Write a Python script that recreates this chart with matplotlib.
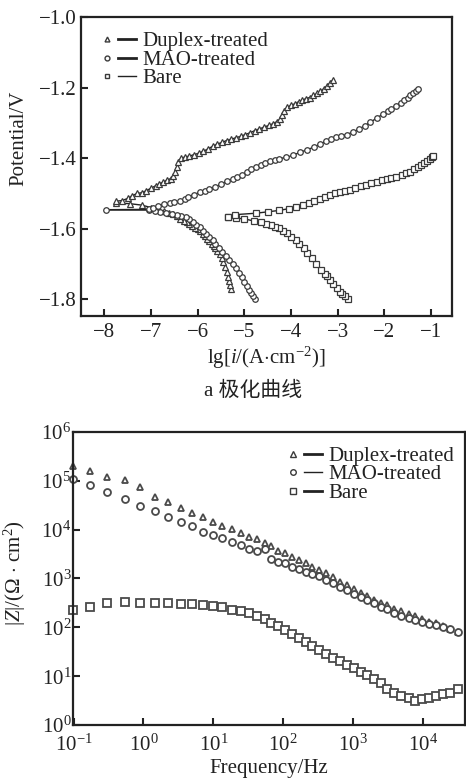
import matplotlib
matplotlib.use('Agg')
import matplotlib.pyplot as plt
from matplotlib.lines import Line2D
from matplotlib.legend_handler import HandlerTuple
from matplotlib.ticker import FixedLocator, NullLocator

plt.rcParams['font.family'] = ['Liberation Serif', 'Noto Sans CJK SC']
plt.rcParams['mathtext.fontset'] = 'custom'
plt.rcParams['mathtext.rm'] = 'Liberation Serif'
plt.rcParams['mathtext.it'] = 'Liberation Serif:italic'
plt.rcParams['axes.unicode_minus'] = True

# ---- polarization curves: lg(i) vs potential (cathodic branch from -1.8 V up to Ecorr, then anodic)
duplex_cat_lgi = [-5.28, -5.30, -5.32, -5.35, -5.38, -5.41, -5.45, -5.49, -5.53, -5.58, -5.62, -5.66,
                  -5.70, -5.75, -5.80, -5.85, -5.89, -5.95, -6.00, -6.05, -6.12, -6.18, -6.24, -6.30,
                  -6.37, -6.45, -6.53, -6.62, -6.72, -6.85, -7.00, -7.20, -7.45, -7.75]
duplex_cat_e = [-1.770, -1.760, -1.748, -1.736, -1.722, -1.708, -1.695, -1.683, -1.671, -1.663, -1.656, -1.649,
                -1.643, -1.635, -1.628, -1.620, -1.614, -1.607, -1.602, -1.598, -1.592, -1.586, -1.581, -1.577,
                -1.571, -1.564, -1.558, -1.554, -1.550, -1.546, -1.540, -1.533, -1.529, -1.527]
duplex_an_lgi = [-7.75, -7.62, -7.50, -7.40, -7.30, -7.20, -7.10, -7.00, -6.90, -6.82, -6.74, -6.66,
                 -6.58, -6.52, -6.48, -6.45, -6.42, -6.36, -6.28, -6.18, -6.08, -5.98, -5.88, -5.78,
                 -5.68, -5.58, -5.48, -5.38, -5.28, -5.18, -5.08, -4.98, -4.88, -4.78, -4.68, -4.58,
                 -4.48, -4.38, -4.30, -4.24, -4.20, -4.15, -4.08, -4.00, -3.92, -3.84, -3.76, -3.68,
                 -3.60, -3.52, -3.44, -3.37, -3.30, -3.23, -3.16, -3.10]
duplex_an_e = [-1.522, -1.520, -1.514, -1.506, -1.500, -1.498, -1.492, -1.485, -1.478, -1.472, -1.468, -1.462,
               -1.458, -1.450, -1.438, -1.425, -1.410, -1.400, -1.397, -1.394, -1.390, -1.386, -1.380, -1.374,
               -1.366, -1.360, -1.355, -1.350, -1.346, -1.342, -1.338, -1.333, -1.328, -1.322, -1.317, -1.312,
               -1.307, -1.302, -1.296, -1.290, -1.278, -1.265, -1.256, -1.250, -1.246, -1.240, -1.236, -1.231,
               -1.228, -1.222, -1.216, -1.210, -1.203, -1.195, -1.186, -1.177]

mao_cat_lgi = [-4.78, -4.82, -4.86, -4.90, -4.95, -5.00, -5.06, -5.12, -5.18, -5.25, -5.32, -5.40,
               -5.47, -5.55, -5.62, -5.68, -5.75, -5.82, -5.89, -5.96, -6.03, -6.10, -6.18, -6.25,
               -6.35, -6.45, -6.55, -6.68, -6.80, -6.92, -7.05, -7.96]
mao_cat_e = [-1.800, -1.792, -1.783, -1.775, -1.762, -1.750, -1.738, -1.725, -1.712, -1.699, -1.688, -1.678,
             -1.666, -1.655, -1.644, -1.633, -1.624, -1.615, -1.605, -1.596, -1.588, -1.580, -1.573, -1.567,
             -1.563, -1.560, -1.557, -1.554, -1.552, -1.549, -1.547, -1.546]
mao_an_lgi = [-7.05, -6.95, -6.85, -6.72, -6.60, -6.50, -6.39, -6.28, -6.20, -6.08, -5.96, -5.85,
              -5.75, -5.62, -5.50, -5.38, -5.25, -5.15, -5.05, -4.95, -4.85, -4.75, -4.65, -4.55,
              -4.45, -4.35, -4.25, -4.10, -3.95, -3.80, -3.65, -3.50, -3.38, -3.25, -3.14, -3.03,
              -2.92, -2.80, -2.68, -2.55, -2.42, -2.30, -2.16, -2.03, -1.93, -1.85, -1.75, -1.65,
              -1.57, -1.50, -1.44, -1.38, -1.33, -1.28]
mao_an_e = [-1.545, -1.540, -1.535, -1.531, -1.528, -1.525, -1.522, -1.516, -1.510, -1.503, -1.497, -1.492,
            -1.488, -1.481, -1.474, -1.466, -1.459, -1.454, -1.448, -1.440, -1.432, -1.425, -1.418, -1.413,
            -1.408, -1.404, -1.401, -1.398, -1.391, -1.383, -1.376, -1.368, -1.360, -1.352, -1.346, -1.341,
            -1.337, -1.333, -1.326, -1.318, -1.308, -1.298, -1.286, -1.275, -1.267, -1.260, -1.251, -1.243,
            -1.235, -1.228, -1.221, -1.214, -1.209, -1.204]

bare_cat_lgi = [-2.78, -2.84, -2.90, -2.95, -3.02, -3.10, -3.17, -3.24, -3.28, -3.35, -3.46, -3.55,
                -3.65, -3.73, -3.82, -3.90, -4.00, -4.08, -4.17, -4.26, -4.35, -4.44, -4.53, -4.65,
                -4.80, -5.00, -5.18, -5.35]
bare_cat_e = [-1.800, -1.792, -1.785, -1.780, -1.768, -1.756, -1.745, -1.734, -1.728, -1.717, -1.699, -1.684,
              -1.670, -1.656, -1.643, -1.632, -1.622, -1.613, -1.605, -1.599, -1.595, -1.590, -1.586, -1.582,
              -1.578, -1.572, -1.570, -1.567]
bare_an_lgi = [-5.35, -5.20, -4.75, -4.50, -4.25, -4.05, -3.90, -3.75, -3.62, -3.50, -3.39, -3.28,
               -3.16, -3.05, -2.96, -2.85, -2.74, -2.62, -2.50, -2.39, -2.28, -2.16, -2.05, -1.95,
               -1.85, -1.74, -1.63, -1.53, -1.44, -1.36, -1.28, -1.21, -1.15, -1.09, -1.03, -0.98, -0.95]
bare_an_e = [-1.567, -1.560, -1.556, -1.552, -1.548, -1.543, -1.538, -1.533, -1.527, -1.522, -1.517, -1.511,
             -1.505, -1.500, -1.497, -1.494, -1.489, -1.484, -1.479, -1.475, -1.471, -1.467, -1.463, -1.460,
             -1.457, -1.453, -1.448, -1.443, -1.438, -1.432, -1.426, -1.420, -1.414, -1.408, -1.402, -1.397, -1.393]

# ---- Bode modulus |Z| (ohm cm2) vs frequency (Hz)
freq = [0.098, 0.174, 0.30, 0.54, 0.89, 1.45, 2.24, 3.39, 5.0, 7.1, 10, 13.5, 18.6, 24.5, 32.4,
        42.7, 55, 67.6, 83.2, 105, 132, 166, 209, 257, 324, 407, 513, 646, 813, 1047, 1288,
        1585, 1995, 2512, 3090, 3890, 4898, 6310, 7762, 9772, 12300, 15490, 19500, 24550, 31620]
z_duplex = [2.0e5, 1.55e5, 1.2e5, 1.05e5, 7.4e4, 4.7e4, 3.7e4, 2.8e4, 2.15e4, 1.8e4, 1.45e4, 1.2e4,
            1.02e4, 8.7e3, 6.9e3, 6.3e3, 5.2e3, 4.7e3, 3.6e3, 3.3e3, 2.8e3, 2.4e3, 2.1e3, 1.74e3,
            1.48e3, 1.32e3, 1.05e3, 850, 740, 600, 510, 440, 370, 316, 280, 240, 215, 186, 170,
            145, 129, 120, 107, 91, 79]
z_mao = [1.07e5, 8.2e4, 6.0e4, 4.2e4, 3.0e4, 2.4e4, 1.8e4, 1.45e4, 1.17e4, 9.1e3, 7.8e3, 6.6e3,
         5.6e3, 4.9e3, 4.0e3, 3.7e3, 4.0e3, 2.45e3, 2.2e3, 2.05e3, 1.74e3, 1.55e3, 1.38e3, 1.23e3,
         1.1e3, 930, 790, 680, 575, 470, 415, 355, 310, 265, 235, 200, 174, 158, 141, 126, 115,
         110, 102, 91, 79]
z_bare = [226, 265, 310, 335, 310, 320, 310, 297, 297, 288, 277, 257, 226, 215, 194, 170, 145,
          124, 107, 88, 72, 60, 49, 42, 34, 28.5, 24, 20.5, 17, 14.5, 12.3, 10.5, 8.6, 7.2, 5.6,
          4.5, 3.9, 3.5, 3.1, 3.35, 3.6, 3.9, 4.3, 4.6, 5.4]

names = ['Duplex-treated', 'MAO-treated', 'Bare']
markers = ['^', 'o', 's']
ink = '#222222'
edge = '#3a3a3a'
fs = 15

fig = plt.figure(figsize=(4.66, 7.78), dpi=100, facecolor='white')


def style_axes(ax):
    for sp in ax.spines.values():
        sp.set_linewidth(1.6)
        sp.set_color(ink)
    ax.tick_params(direction='in', length=5, width=1.5, colors=ink, labelsize=fs,
                   top=False, right=False)


def legend_handles(mk_size, line_w):
    hs = []
    for mk, lw in zip(markers, line_w):
        m = Line2D([], [], ls='none', marker=mk, ms=mk_size, mfc='white', mec=edge, mew=1.0)
        ln = Line2D([], [], color=ink, lw=lw)
        hs.append((m, ln))
    return hs


# ---------------- polarization curves
ax1 = fig.add_axes([0.174, 0.594, 0.796, 0.384])
curves = [
    (duplex_cat_lgi + duplex_an_lgi, duplex_cat_e + duplex_an_e),
    (mao_cat_lgi + mao_an_lgi, mao_cat_e + mao_an_e),
    (bare_cat_lgi + bare_an_lgi, bare_cat_e + bare_an_e),
]
for (x, y), mk in zip(curves, markers):
    ax1.plot(x, y, color=ink, lw=1.0, marker=mk, ms=4.0, mfc='white', mec=edge, mew=0.9)

ax1.set_xlim(-8.5, -0.55)
ax1.set_ylim(-1.847, -1.0)
ax1.set_xticks([-8, -7, -6, -5, -4, -3, -2, -1])
ax1.set_yticks([-1.8, -1.6, -1.4, -1.2, -1.0])
ax1.yaxis.set_major_formatter(matplotlib.ticker.FuncFormatter(lambda v, p: f'{v:.1f}'.replace('-', '\u2212')))
ax1.xaxis.set_major_formatter(matplotlib.ticker.FuncFormatter(lambda v, p: f'{v:.0f}'.replace('-', '\u2212')))
style_axes(ax1)
ax1.tick_params(axis='x', pad=5)
ax1.tick_params(axis='y', pad=3)
ax1.set_xlabel(r'lg[$\mathit{i}$/(A$\cdot$cm$^{-2}$)]', fontsize=fs, color=ink, labelpad=2)
ax1.set_ylabel('Potential/V', fontsize=fs, color=ink)
ax1.yaxis.set_label_coords(-0.143, 0.595)

ax1.legend(legend_handles(3.5, [2.0, 2.0, 1.0]), names,
           handler_map={tuple: HandlerTuple(ndivide=None, pad=0.1)},
           loc='upper left', bbox_to_anchor=(0.008, 1.0), frameon=False,
           fontsize=fs, handlelength=1.8, handletextpad=0.3, labelspacing=-0.05,
           borderpad=0.2, labelcolor=ink)

fig.text(0.543, 1 - 391 / 778, 'a 极化曲线', ha='center', va='center', fontsize=fs, color=ink)

# ---------------- Bode modulus
ax2 = fig.add_axes([0.156, 0.068, 0.841, 0.377])
for z, mk, ms in zip([z_duplex, z_mao, z_bare], markers, [5.0, 5.0, 5.2]):
    ax2.plot(freq, z, ls='none', marker=mk, ms=ms, mfc='white', mec='#4a4a4a', mew=1.3,
             clip_on=False)
ax2.set_xscale('log')
ax2.set_yscale('log')
ax2.set_xlim(0.097, 39500)
ax2.set_ylim(1, 1e6)
ax2.xaxis.set_major_locator(FixedLocator([0.1, 1, 10, 100, 1000, 10000]))
ax2.yaxis.set_major_locator(FixedLocator([1, 10, 100, 1e3, 1e4, 1e5, 1e6]))
ax2.xaxis.set_minor_locator(NullLocator())
ax2.yaxis.set_minor_locator(NullLocator())
ax2.set_xticklabels([r'$\mathregular{10^{-1}}$', r'$\mathregular{10^{0}}$', r'$\mathregular{10^{1}}$',
                     r'$\mathregular{10^{2}}$', r'$\mathregular{10^{3}}$', r'$\mathregular{10^{4}}$'])
ax2.set_yticklabels([r'$\mathregular{10^{%d}}$' % k for k in range(7)])
style_axes(ax2)
ax2.tick_params(axis='x', pad=7)
ax2.tick_params(axis='y', pad=1)
ax2.set_xlabel('Frequency/Hz', fontsize=fs, color=ink, labelpad=2)
ax2.set_ylabel(r'|$\mathit{Z}$|/($\Omega$ $\cdot$ cm$^2$)', fontsize=fs, color=ink)
ax2.yaxis.set_label_coords(-0.113, 0.52)

ax2.legend(legend_handles(4.0, [2.0, 1.0, 2.0]), names,
           handler_map={tuple: HandlerTuple(ndivide=None, pad=0.1)},
           loc='upper right', bbox_to_anchor=(1.01, 1.0), frameon=False,
           fontsize=fs, handlelength=1.8, handletextpad=0.3, labelspacing=-0.05,
           borderpad=0.2, labelcolor=ink)

fig.savefig('out.png', dpi=100, facecolor='white')
plt.close(fig)
